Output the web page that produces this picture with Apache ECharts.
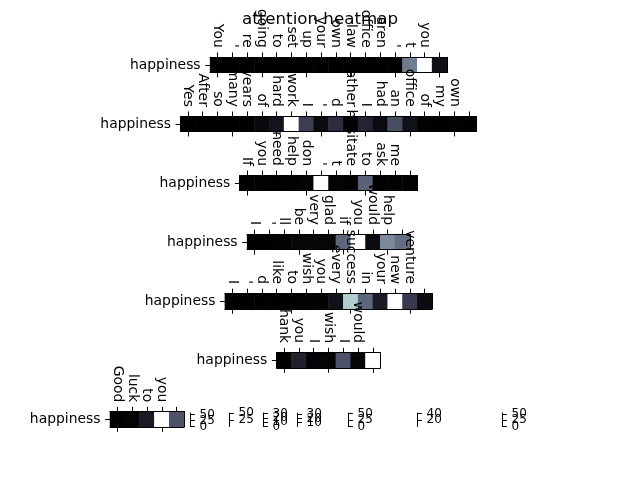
<!DOCTYPE html>
<html><head><meta charset="utf-8">
<script src="https://cdn.jsdelivr.net/npm/echarts@6/dist/echarts.min.js"></script>
<style>html,body{margin:0;padding:0;background:#fff}#c{width:640px;height:480px}</style>
</head><body><div id="c"></div>
<script>
// ---- data ----
const rowLabel = ['happiness'];
const tokens1 = ['You',"'",'re','going','to','set','up','your','own','law','office','aren',"'",'t','you',''];
const values1 = [0.2,0.1,0.1,0.1,0.1,0.1,0.1,0.1,0.1,0.1,0.2,0.1,0.3,28,56,4];
const tokens2 = ['Yes','After','so','many','years','of','hard','work','I',"'",'d','rather','I','had','an','office','of','my','own',''];
const values2 = [0.6,0.5,0.7,0.6,0.8,2.5,5,51,14,3,10.5,1.5,8.5,3,17,4.5,1,0.8,0.9,0.7];
const tokens3 = ['If','you','need','help','don',"'",'t','hesitate','to','ask','me',''];
const values3 = [0.2,0.3,0.2,0.3,0.5,31,0.5,0.4,12.5,0.3,0.4,0.3];
const tokens4 = ['I',"'",'ll','be','very','glad','if','you','would','help',''];
const values4 = [0.6,0.7,0.8,1.5,1.6,1.4,14.2,33,2.1,18.4,15.2];
const tokens5 = ['I',"'",'d','like','to','wish','you','every','success','in','your','new','venture',''];
const values5 = [0.2,0.1,0.3,0.2,0.3,0.4,0.6,4.2,40.5,22,6.2,52,13,2.6];
const tokens6 = ['Thank','you','I','wish','I','would',''];
const values6 = [1.1,7.1,1.8,1.9,15.3,2.2,42];
const tokens7 = ['Good','luck','to','you',''];
const values7 = [0.5,1,6.6,55,19.2];
// colour-bar ranges and tick labels (one per heatmap)
const cbMin = [0, 0.5, 0, 0.5, 0, 1, 0];
const cbMax = [56, 51, 31, 33, 52, 42, 55];
const cbTicks = [[0,25,50],[25,50],[0,10,20,30],[10,20,30],[0,25,50],[20,40],[0,25,50]];

const rows = [
  [tokens1, values1],[tokens2, values2],[tokens3, values3],[tokens4, values4],
  [tokens5, values5],[tokens6, values6],[tokens7, values7]
];

// ---- layout / style ----
const FONT = 'DejaVu Sans';
const bone = ['#000000','#38384e','#6f7b8f','#a8c7c7','#ffffff'];
const cellW = 14.8, cellH = 15.2, centerX = 328.5, top0 = 57.3, step = 59.07;
const lastLeft = 110;
const cbX = [190, 229, 263, 297, 348, 417, 502];
const cbTop = 413, cbH = 13.5;

const grid = [], xAxis = [], yAxis = [], series = [], visualMap = [];
const lineStyle = {color:'#000', width:1};
rows.forEach(([tok, val], i) => {
  const n = tok.length;
  const w = n * cellW;
  const left = i === rows.length - 1 ? lastLeft : centerX - w / 2;
  grid.push({left: left, top: top0 + i * step, width: w, height: cellH});
  const xi = xAxis.length;
  xAxis.push({type:'category', data: tok, gridIndex: i, position:'top', z: 5,
    axisLine:{show:true, onZero:false, lineStyle},
    axisTick:{show:true, alignWithLabel:true, length:4.9, lineStyle},
    axisLabel:{interval:0, rotate:90, margin:9.5, fontSize:13.9, color:'#000', fontFamily:FONT, hideOverlap:false},
    splitLine:{show:false}});
  xAxis.push({type:'category', data: tok, gridIndex: i, position:'bottom', z: 5,
    axisLine:{show:true, onZero:false, lineStyle},
    axisTick:{show:true, alignWithLabel:true, length:4.9, lineStyle},
    axisLabel:{show:false}, splitLine:{show:false}});
  const yi = yAxis.length;
  yAxis.push({type:'category', data: rowLabel, gridIndex: i, position:'left', z: 5,
    axisLine:{show:true, onZero:false, lineStyle},
    axisTick:{show:true, alignWithLabel:true, length:4.9, lineStyle},
    axisLabel:{margin:9.5, fontSize:13.9, color:'#000', fontFamily:FONT},
    splitLine:{show:false}});
  yAxis.push({type:'category', data: rowLabel, gridIndex: i, position:'right', z: 5,
    axisLine:{show:true, onZero:false, lineStyle},
    axisTick:{show:false}, axisLabel:{show:false}, splitLine:{show:false}});
  series.push({type:'heatmap', xAxisIndex: xi, yAxisIndex: yi,
    data: val.map((v, j) => [j, 0, v]),
    itemStyle:{borderWidth:0}, emphasis:{disabled:true}, progressive:0});
  visualMap.push({type:'continuous', show:false, seriesIndex: i,
    min: cbMin[i], max: cbMax[i], inRange:{color: bone}});
});
// colour bars (squeezed to zero width, as in the reference); one axis per tick so
// that overlapping labels are all drawn, like matplotlib does
cbX.forEach((x, k) => {
  const gi = grid.length;
  grid.push({left: x, top: cbTop, width: 0.01, height: cbH});
  xAxis.push({type:'value', gridIndex: gi, show:false});
  cbTicks[k].forEach((t, m) => {
    yAxis.push({type:'value', gridIndex: gi, position:'right', offset:0,
      min: cbMin[k], max: cbMax[k], z:5,
      axisLine:{show: m === 0, lineStyle},
      axisTick:{show:true, length:4.9, lineStyle, customValues: [t]},
      axisLabel:{fontSize:12, color:'#000', fontFamily:FONT, margin:9.5, customValues: [t],
        padding:[5,0,0,0], hideOverlap:false, showMinLabel:true, showMaxLabel:true},
      splitLine:{show:false}});
  });
});

const chart = echarts.init(document.getElementById('c'), null, {renderer:'canvas'});
chart.setOption({
  animation:false,
  backgroundColor:'#fff',
  title:{text:'attention heatmap', left:'center', top:6,
    textStyle:{fontSize:16.7, fontWeight:'normal', color:'#000', fontFamily:FONT}},
  grid, xAxis, yAxis, visualMap, series
});
</script></body></html>
